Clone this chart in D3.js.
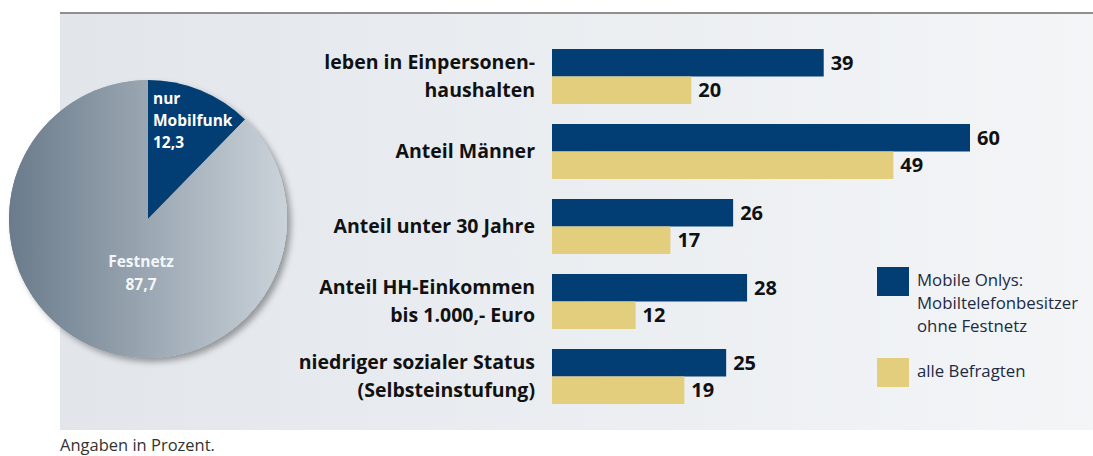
<!DOCTYPE html>
<html>
<head>
<meta charset="utf-8">
<script src="https://cdn.jsdelivr.net/npm/d3@7"></script>
<style>
  body { margin: 0; background: #fff; }
  svg { display: block; font-family: "Open Sans", "Noto Sans", sans-serif; }
</style>
</head>
<body>
<div id="chart"></div>
<script>
// ── Data ──────────────────────────────────────────────────────────────────
var pieLabels = [['nur', 'Mobilfunk', '12,3'], ['Festnetz', '87,7']];
var pieValues = [12.3, 87.7];

var categories = [
  ['leben in Einpersonen-', 'haushalten'],
  ['Anteil Männer'],
  ['Anteil unter 30 Jahre'],
  ['Anteil HH-Einkommen', 'bis 1.000,- Euro'],
  ['niedriger sozialer Status', '(Selbsteinstufung)']
];
var mobileOnly = [39, 60, 26, 28, 25];
var allRespondents = [20, 49, 17, 12, 19];

var legendLabels = [['Mobile Onlys:', 'Mobiltelefonbesitzer', 'ohne Festnetz'], ['alle Befragten']];
var footnote = 'Angaben in Prozent.';

// ── Layout ────────────────────────────────────────────────────────────────
var W = 1093, H = 456;
var BLUE = '#023e73', YELLOW = '#e2ce7d';

var svg = d3.select('#chart').append('svg').attr('width', W).attr('height', H);
var defs = svg.append('defs');

var bg = defs.append('linearGradient').attr('id', 'bg');
bg.append('stop').attr('offset', '0%').attr('stop-color', '#e2e6eb');
bg.append('stop').attr('offset', '100%').attr('stop-color', '#f3f5f7');

var pg = defs.append('linearGradient').attr('id', 'pieGrad')
  .attr('gradientUnits', 'userSpaceOnUse')
  .attr('x1', -139).attr('x2', 139).attr('y1', 0).attr('y2', 0);
pg.append('stop').attr('offset', '0%').attr('stop-color', '#6a7b8b');
pg.append('stop').attr('offset', '100%').attr('stop-color', '#cbd3da');

var sh = defs.append('filter').attr('id', 'shadow')
  .attr('x', '-20%').attr('y', '-20%').attr('width', '140%').attr('height', '140%');
sh.append('feDropShadow').attr('dx', 4).attr('dy', 4).attr('stdDeviation', 3)
  .attr('flood-color', '#000').attr('flood-opacity', 0.35);

// panel + top rule
svg.append('rect').attr('x', 60).attr('y', 14).attr('width', W - 60).attr('height', 416)
  .attr('fill', 'url(#bg)');
svg.append('line').attr('x1', 60).attr('x2', W).attr('y1', 13).attr('y2', 13)
  .attr('stroke', '#8f8f8f').attr('stroke-width', 2);

// ── Pie ───────────────────────────────────────────────────────────────────
var R = 139;
var pieG = svg.append('g').attr('transform', 'translate(148,219)');
var arcs = d3.pie().sort(null)(pieValues);
var arc = d3.arc().innerRadius(0).outerRadius(R);

pieG.append('circle').attr('r', R).attr('fill', 'url(#pieGrad)').attr('filter', 'url(#shadow)');
pieG.selectAll('path').data(arcs).join('path')
  .attr('d', arc)
  .attr('fill', function(d, i) { return i === 0 ? BLUE : 'url(#pieGrad)'; });

var pieText = pieG.append('g').attr('font-weight', 700).attr('font-size', 15.5).attr('fill', '#fff');
pieText.append('text').attr('y', -115)
  .selectAll('tspan').data(pieLabels[0]).join('tspan')
  .attr('x', 5).attr('dy', function(d, i) { return i === 0 ? 0 : 22; })
  .text(function(d) { return d; });
pieText.append('text').attr('text-anchor', 'middle').attr('y', 48).attr('fill', '#f4f6f8')
  .selectAll('tspan').data(pieLabels[1]).join('tspan')
  .attr('x', -7).attr('dy', function(d, i) { return i === 0 ? 0 : 23; })
  .text(function(d) { return d; });

// ── Bars ──────────────────────────────────────────────────────────────────
var x = d3.scaleLinear().domain([0, 60]).range([552, 970]);
var y = d3.scaleBand().domain(d3.range(categories.length)).range([49, 404])
  .paddingInner(20 / 75).paddingOuter(0);
var half = y.bandwidth() / 2;

var groups = svg.append('g').selectAll('g').data(categories).join('g')
  .attr('transform', function(d, i) { return 'translate(0,' + y(i) + ')'; });

groups.append('rect').attr('x', x(0)).attr('y', 0).attr('height', half)
  .attr('width', function(d, i) { return x(mobileOnly[i]) - x(0); }).attr('fill', BLUE);
groups.append('rect').attr('x', x(0)).attr('y', half).attr('height', half)
  .attr('width', function(d, i) { return x(allRespondents[i]) - x(0); }).attr('fill', YELLOW);

var vals = groups.append('g').attr('font-weight', 700).attr('font-size', 20).attr('fill', '#111');
vals.append('text').attr('x', function(d, i) { return x(mobileOnly[i]) + 7; })
  .attr('y', half / 2).attr('dy', '0.36em').text(function(d, i) { return mobileOnly[i]; });
vals.append('text').attr('x', function(d, i) { return x(allRespondents[i]) + 7; })
  .attr('y', half * 1.5).attr('dy', '0.36em').text(function(d, i) { return allRespondents[i]; });

groups.append('text').attr('text-anchor', 'end').attr('font-weight', 700).attr('font-size', 19.5)
  .attr('fill', '#111')
  .each(function(lines) {
    var t = d3.select(this);
    var ys = lines.length === 1 ? [half] : [half / 2, half * 1.5];
    lines.forEach(function(s, k) {
      t.append('tspan').attr('x', 535).attr('y', ys[k]).attr('dy', '0.34em').text(s);
    });
  });

// ── Legend ────────────────────────────────────────────────────────────────
var legY = [267, 358];
var leg = svg.append('g').selectAll('g').data(legendLabels).join('g')
  .attr('transform', function(d, i) { return 'translate(877,' + legY[i] + ')'; });
leg.append('rect').attr('width', 32).attr('height', 29)
  .attr('fill', function(d, i) { return i === 0 ? BLUE : YELLOW; });
leg.append('text').attr('font-size', 16.8).attr('fill', '#1c2a44')
  .selectAll('tspan').data(function(d) { return d; }).join('tspan')
  .attr('x', 40).attr('y', function(d, k) { return 19 + k * 23; })
  .text(function(d) { return d; });

// ── Footnote ──────────────────────────────────────────────────────────────
svg.append('text').attr('x', 60).attr('y', 451).attr('font-size', 16.5).attr('fill', '#333')
  .text(footnote);
</script>
</body>
</html>
